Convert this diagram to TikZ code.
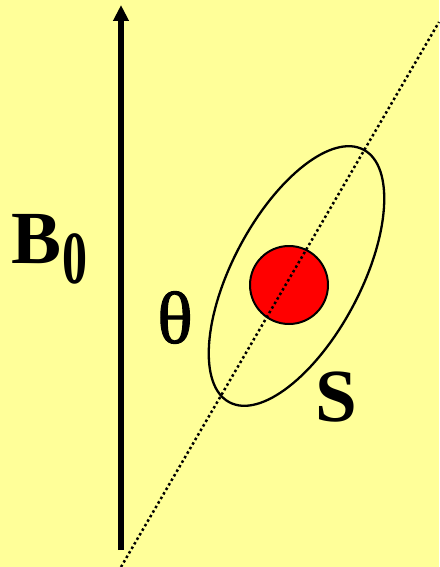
\documentclass[tikz,border=0pt]{standalone}
\usepackage{graphicx}
\usepackage{fontspec}
\setmainfont{Liberation Serif}
\newfontfamily\thetafont[FakeBold=1.3]{Liberation Serif}
\usetikzlibrary{arrows.meta}
\definecolor{bgyellow}{RGB}{255,255,153}
\begin{document}
\begin{tikzpicture}[x=1pt,y=-1pt,
  dotline/.style={line width=2.5pt, line cap=butt, dash pattern=on 2.5pt off 2.75pt},
  bigtext/.style={inner sep=0pt, outer sep=0pt, font=\fontsize{75}{75}\selectfont\bfseries},
  fieldarrow/.style={line width=5.5pt, -{Triangle[width=15pt,length=16pt]}},
  sample/.style={line width=2.3pt},
  core/.style={circle, draw, fill=red, line width=2pt, minimum size=78pt, inner sep=0pt}]
\fill[bgyellow] (0,0) rectangle (439,567);
\useasboundingbox (0,0) rectangle (439,567);
% field arrow
\coordinate (arB) at (121,550);
\coordinate (arT) at (121,5);
\draw[fieldarrow] (arB) -- (arT);
% sample ellipse
\coordinate (ec) at (296.5,276);
\draw[sample, rotate around={62:(ec)}] (ec) ellipse [x radius=143pt, y radius=64pt];
% red core
\node[core] (red) at (289,285) {};
% dotted axis
\coordinate (axB) at (121,567);
\coordinate (axT) at (439,22);
\draw[dotline] (axB) -- (axT);
% labels
\node[bigtext, anchor=base west] (B) at (12,263) {B};
\node[inner sep=0pt, anchor=base west] (sub) at (62.5,283) {\scalebox{1}[1.5]{\fontsize{50}{50}\selectfont\bfseries 0}};
\node[inner sep=0pt, anchor=base, font=\fontsize{74}{74}\thetafont] (theta) at (175,343) {θ};
\node[bigtext, anchor=base] (S) at (336,421) {S};
\end{tikzpicture}
\end{document}
